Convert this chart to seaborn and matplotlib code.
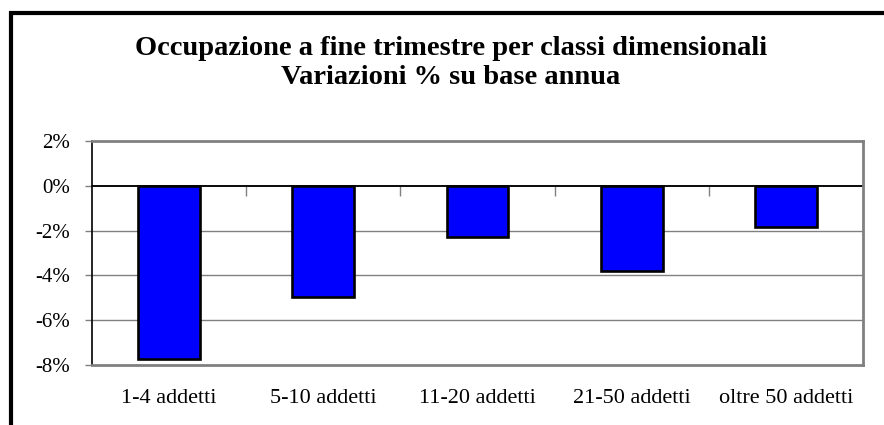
import matplotlib
matplotlib.use("Agg")
import matplotlib.pyplot as plt
import matplotlib.patches as patches
from matplotlib.ticker import FuncFormatter
import pandas as pd
import seaborn as sns

# dati
classi = ["1-4 addetti", "5-10 addetti", "11-20 addetti", "21-50 addetti", "oltre 50 addetti"]
variazioni = [-7.75, -4.95, -2.3, -3.8, -1.85]
y_ticks = [-8, -6, -4, -2, 0, 2]

sns.set_theme(style="white")
plt.rcParams["font.family"] = ["Liberation Serif", "DejaVu Serif"]
plt.rcParams["text.color"] = "black"

GRAY = "#808080"

df = pd.DataFrame({"classe": classi, "var": variazioni})

fig = plt.figure(figsize=(8.84, 4.25), dpi=100)
ax = fig.add_axes([92 / 884, 1 - 365 / 425, (863 - 92) / 884, (365 - 141) / 425])

sns.barplot(data=df, x="classe", y="var", color="#0000FF", saturation=1,
            edgecolor="black", linewidth=1.9, width=0.4, ax=ax)

ax.set_ylim(-8, 2)
ax.set_xlim(-0.5, len(classi) - 0.5)
ax.set_yticks(y_ticks)
ax.yaxis.set_major_formatter(FuncFormatter(lambda v, p: f"{v:.0f}%"))
ax.set_xlabel("")
ax.set_ylabel("")

# griglia e linea dello zero
for v in y_ticks[1:-1]:
    if v == 0:
        continue
    ax.axhline(v, color=GRAY, lw=1, zorder=0)
ax.axhline(0, color="black", lw=1.1, zorder=1)

for s in ["top", "right", "bottom"]:
    ax.spines[s].set_color(GRAY)
    ax.spines[s].set_linewidth(2)
ax.spines["left"].set_color("black")
ax.spines["left"].set_linewidth(1.2)

ax.tick_params(axis="y", left=True, direction="out", length=5, width=1,
               color=GRAY, labelsize=15, pad=11, labelcolor="black")
ax.tick_params(axis="x", bottom=False, labelsize=16, pad=11, labelcolor="black")

# tacche dell'asse delle categorie sulla linea dello zero
sec = ax.secondary_xaxis(0.8)
sec.set_xticks([i + 0.5 for i in range(len(classi) - 1)])
sec.set_xticklabels([])
sec.tick_params(axis="x", direction="in", length=7, width=1, color=GRAY)
sec.spines["bottom"].set_visible(False)

fig.text(451 / 884, 1 - 63 / 425, "Occupazione a fine trimestre per classi dimensionali\nVariazioni % su base annua",
         ha="center", va="center", fontsize=20.5, fontweight="bold", linespacing=1.2, color="black")

# cornice esterna
frame = patches.Rectangle((10.5 / 884, -0.1), 1.2, 0.1 + 1 - 13 / 425, transform=fig.transFigure,
                          fill=False, edgecolor="black", lw=3, clip_on=False)
fig.patches.append(frame)

fig.savefig("out.png", dpi=100)
